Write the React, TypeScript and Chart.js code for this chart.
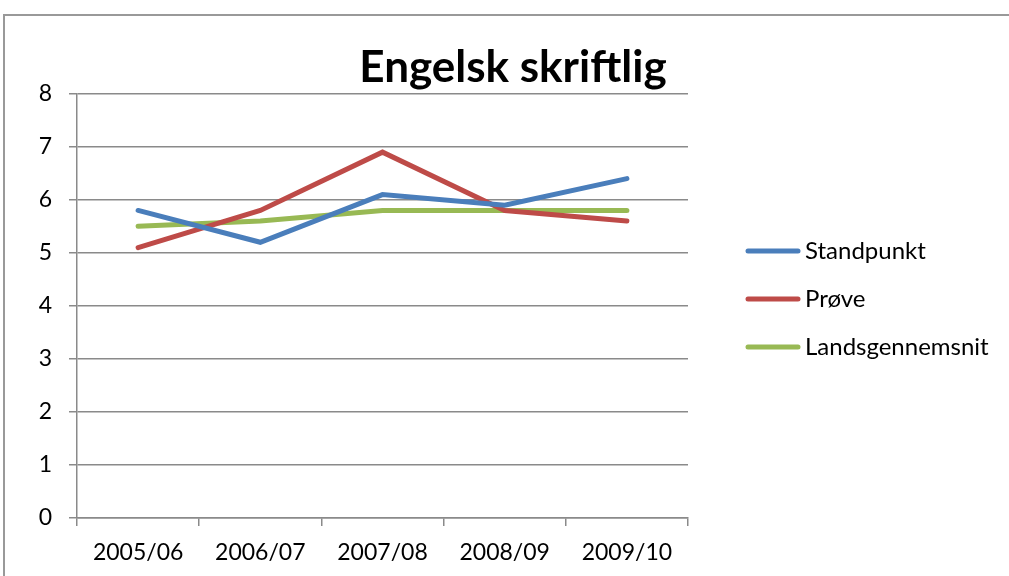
import React, { useEffect, useRef } from "react";
import { Chart, registerables } from "chart.js";

Chart.register(...registerables);

const categories = ["2005/06", "2006/07", "2007/08", "2008/09", "2009/10"];
const standpunkt = [5.8, 5.2, 6.1, 5.9, 6.4];
const proeve = [5.1, 5.8, 6.9, 5.8, 5.6];
const landsgennemsnit = [5.5, 5.6, 5.8, 5.8, 5.8];
const seriesNames = ["Standpunkt", "Prøve", "Landsgennemsnit"];
const seriesColors = ["#4A7EBB", "#BE4B48", "#98B954"];
const titleText = "Engelsk skriftlig";

const FONT = "Lato, 'Noto Sans', sans-serif";
const GRID = "#8a8a8a";

const legendPlugin = {
  id: "customLegend",
  afterDraw(chart: any) {
    const ctx = chart.ctx;
    const x0 = 748;
    const y0 = 251;
    const gap = 48;
    ctx.save();
    chart.data.datasets.forEach((ds: any, i: number) => {
      const y = y0 + i * gap;
      ctx.strokeStyle = ds.borderColor;
      ctx.lineWidth = 5;
      ctx.lineCap = "round";
      ctx.beginPath();
      ctx.moveTo(x0, y);
      ctx.lineTo(x0 + 50, y);
      ctx.stroke();
      ctx.fillStyle = "#000";
      ctx.font = `24px ${FONT}`;
      ctx.textBaseline = "middle";
      ctx.textAlign = "left";
      ctx.fillText(ds.label, x0 + 57, y);
    });
    ctx.restore();
  },
};

export default function App() {
  const ref = useRef<HTMLCanvasElement | null>(null);
  useEffect(() => {
    if (!ref.current) return;
    const datasets = [standpunkt, proeve, landsgennemsnit].map((d, i) => ({
      label: seriesNames[i],
      data: d,
      borderColor: seriesColors[i],
      backgroundColor: seriesColors[i],
      borderWidth: 5,
      pointRadius: 0,
      tension: 0,
      fill: false,
      borderCapStyle: "round" as const,
      borderJoinStyle: "miter" as const,
    }));
    const chart = new Chart(ref.current, {
      type: "line",
      data: { labels: categories, datasets },
      options: {
        animation: false,
        responsive: false,
        maintainAspectRatio: false,
        font: { family: FONT },
        color: "#000",
        layout: { padding: { left: 17, top: 41, right: 0, bottom: 0 } },
        plugins: {
          legend: { display: false },
          tooltip: { enabled: false },
          title: {
            display: true,
            text: titleText,
            color: "#000",
            font: { family: FONT, size: 44, weight: "bold" },
            padding: { top: 0, bottom: 0 },
          },
        },
        scales: {
          x: {
            type: "category",
            offset: true,
            grid: {
              display: true,
              offset: true,
              drawOnChartArea: false,
              drawTicks: true,
              tickLength: 8,
              color: GRID,
              lineWidth: 1.5,
            },
            border: { display: true, color: GRID, width: 1.5 },
            ticks: {
              color: "#000",
              font: { family: FONT, size: 23 },
              padding: 13,
              maxRotation: 0,
            },
            afterFit(scale: any) {
              scale.height = 58;
            },
          },
          y: {
            type: "linear",
            min: 0,
            max: 8,
            position: "left",
            grid: {
              color: GRID,
              lineWidth: 1.5,
              tickLength: 8,
              drawTicks: true,
            },
            border: { display: true, color: GRID, width: 1.5 },
            ticks: {
              stepSize: 1,
              color: "#000",
              font: { family: FONT, size: 23 },
              padding: 17,
            },
            afterFit(scale: any) {
              scale.width = 60;
            },
          },
          yR: {
            type: "linear",
            position: "right",
            display: true,
            grid: { display: false, drawTicks: false },
            border: { display: false },
            ticks: { display: false },
            afterFit(scale: any) {
              scale.width = 321;
            },
          },
        },
      },
      plugins: [legendPlugin],
    });
    return () => chart.destroy();
  }, []);

  return (
    <div style={{ position: "fixed", left: 0, top: 0, width: 1009, height: 576, background: "#fff", overflow: "hidden" }}>
      <div
        style={{
          position: "absolute",
          left: 3,
          top: 14,
          width: 1100,
          height: 700,
          border: "2px solid #999",
          boxSizing: "border-box",
        }}
      />
      <canvas ref={ref} width={1009} height={576} style={{ position: "absolute", left: 0, top: 0, width: 1009, height: 576 }} />
    </div>
  );
}
